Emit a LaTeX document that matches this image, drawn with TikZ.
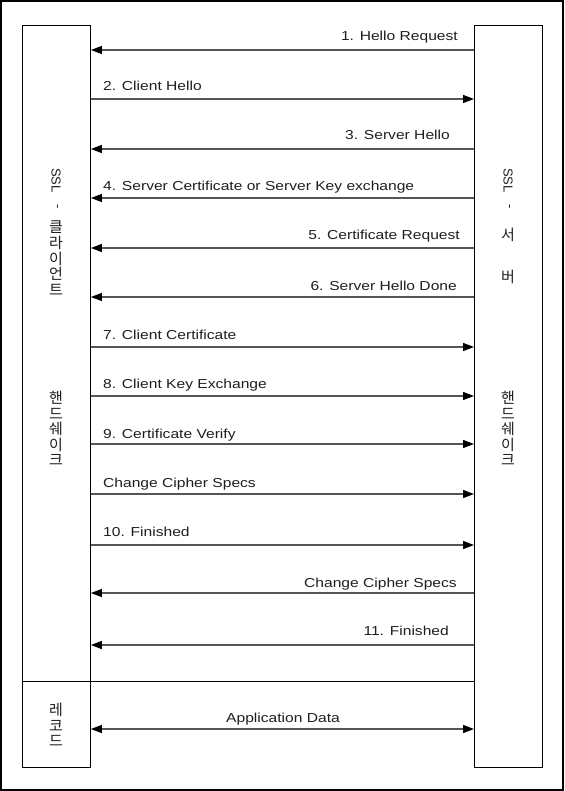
\documentclass[tikz,border=0pt]{standalone}
\usepackage{fontspec}
\setmainfont{Liberation Sans}
\newfontfamily\labelfont[FakeStretch=1.2]{Liberation Sans}
\newfontfamily\krfont{Noto Sans CJK KR}
\usetikzlibrary{arrows.meta}

\definecolor{linegray}{RGB}{85,85,85}
\definecolor{textgray}{RGB}{30,30,30}

\begin{document}
\begin{tikzpicture}[x=1pt,y=-1pt,
  box/.style={draw=black, line width=0.9pt, inner sep=0pt, anchor=north west,
              minimum width=68pt, minimum height=742pt},
  msg/.style={draw=linegray, line width=1.3pt, -{Triangle[length=11pt,width=8pt,color=black]}},
  twoway/.style={draw=linegray, line width=1.3pt,
     {Triangle[length=11pt,width=8pt,color=black]}-{Triangle[length=11pt,width=8pt,color=black]}},
  lbl/.style={font=\labelfont\fontsize{13}{15}\selectfont, text=textgray, inner sep=0pt},
  vlat/.style={font=\fontsize{13}{15}\selectfont, text=textgray, rotate=-90, inner sep=0pt},
  vkr/.style={font=\krfont\fontsize{15}{15.6}\selectfont, text=textgray, align=center, inner sep=0pt},
]
\useasboundingbox (0,0) rectangle (564,791);
% page frame
\draw[line width=2pt] (1,1) rectangle (563,790);

% the two parties
\node[box] (client) at (22,25) {};
\node[box] (server) at (474,25) {};
\coordinate (sepy) at (0,681);
\draw[line width=0.9pt] (client.west |- sepy) -- (server.west |- sepy);

% vertical titles, client side
\node[vlat, anchor=west] (cssl) at (56,168) {SSL};
\node[vlat] (cdash) at (56,207) {-};
\node[vkr, anchor=north] (cname) at (56,221) {클\\라\\이\\언\\트};
\node[vkr, anchor=north] (chs) at (56,391) {핸\\드\\쉐\\이\\크};
\node[vkr] (crec) at (56,725) {레\\코\\드};

% vertical titles, server side
\node[vlat, anchor=west] (sssl) at (508,168) {SSL};
\node[vlat] (sdash) at (508,207) {-};
\node[vkr] (sseo) at (508,235) {서};
\node[vkr] (sbeo) at (508,277) {버};
\node[vkr, anchor=north] (shs) at (508,391) {핸\\드\\쉐\\이\\크};

% end points of the messages on both boxes
\foreach \n/\yy in {1/50, 2/99, 3/149, 4/198, 5/248, 6/297, 7/347, 8/396,
                    9/444, 10/494, 11/545, 12/593, 13/645, 14/729} {
  \coordinate (h\n) at (0,\yy);
  \coordinate (c\n) at (client.east |- h\n);
  \coordinate (s\n) at (server.west |- h\n);
}

% handshake messages
\draw[msg] (s1) -- (c1);
\draw[msg] (c2) -- (s2);
\draw[msg] (s3) -- (c3);
\draw[msg] (s4) -- (c4);
\draw[msg] (s5) -- (c5);
\draw[msg] (s6) -- (c6);
\draw[msg] (c7) -- (s7);
\draw[msg] (c8) -- (s8);
\draw[msg] (c9) -- (s9);
\draw[msg] (c10) -- (s10);
\draw[msg] (c11) -- (s11);
\draw[msg] (s12) -- (c12);
\draw[msg] (s13) -- (c13);
\draw[twoway] (c14) -- (s14);

% message labels
\node[lbl, anchor=base east] (t1) at (458,41) {1. Hello Request};
\node[lbl, anchor=base west] (t2) at (103,91) {2. Client Hello};
\node[lbl, anchor=base east] (t3) at (450,140) {3. Server Hello};
\node[lbl, anchor=base west] (t4) at (103,191) {4. Server Certificate or Server Key exchange};
\node[lbl, anchor=base east] (t5) at (460,240) {5. Certificate Request};
\node[lbl, anchor=base east] (t6) at (457,290) {6. Server Hello Done};
\node[lbl, anchor=base west] (t7) at (103,339) {7. Client Certificate};
\node[lbl, anchor=base west] (t8) at (103,388) {8. Client Key Exchange};
\node[lbl, anchor=base west] (t9) at (103,438) {9. Certificate Verify};
\node[lbl, anchor=base west] (t10) at (103,487) {Change Cipher Specs};
\node[lbl, anchor=base west] (t11) at (103,536) {10. Finished};
\node[lbl, anchor=base east] (t12) at (457,587) {Change Cipher Specs};
\node[lbl, anchor=base east] (t13) at (449,635) {11. Finished};
\node[lbl, anchor=base] (t14) at (283,722) {Application Data};
\end{tikzpicture}
\end{document}
